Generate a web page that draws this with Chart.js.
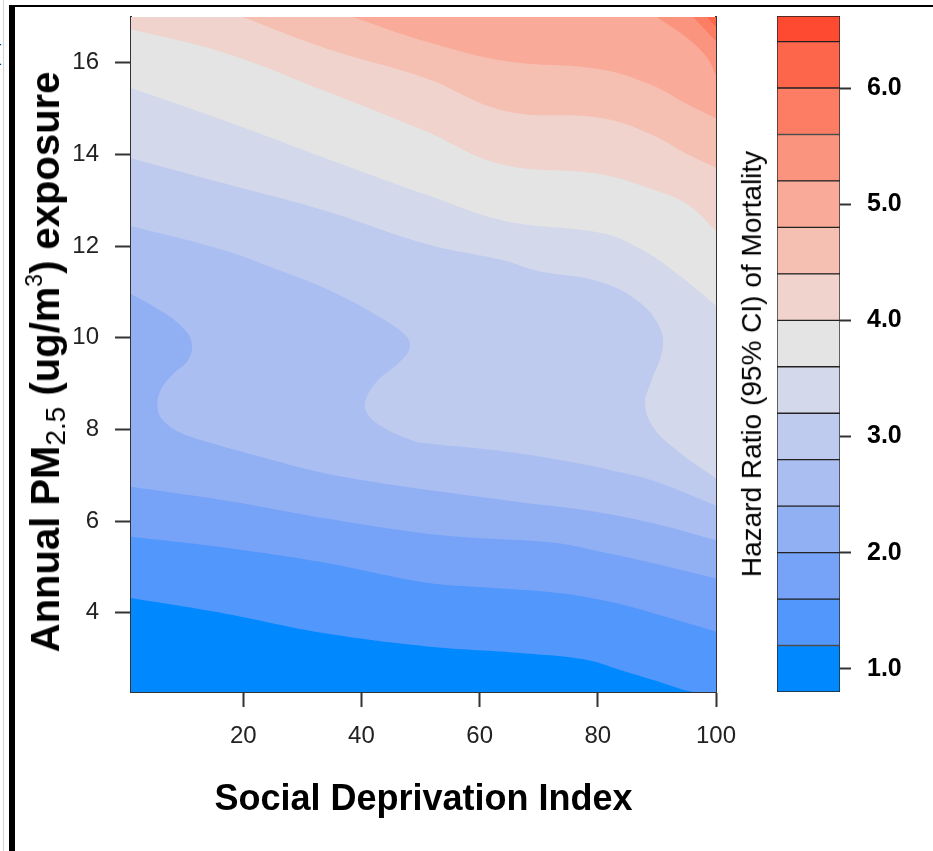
<!DOCTYPE html>
<html>
<head>
<meta charset="utf-8">
<title>Hazard ratio surface: PM2.5 exposure vs social deprivation</title>
<script src="https://cdn.jsdelivr.net/npm/chart.js@4.4.0/dist/chart.umd.min.js"></script>
<style>
  html, body { margin: 0; padding: 0; background: #fff; }
  #wrap { position: relative; width: 933px; height: 851px; overflow: hidden;
          font-family: "Liberation Sans", Arial, sans-serif; }
  #main { position: absolute; left: 0; top: 0; }
  #key  { position: absolute; left: 690px; top: 0; }
  .rule-top  { position: absolute; left: 12px; top: 5px; width: 921px; height: 2px; background: #000; }
  .rule-left { position: absolute; left: 9px; top: 5px; width: 6px; height: 846px; background: #000; }
  .rule-thin { position: absolute; left: 3px; top: 0; width: 1px; height: 851px; background: #d4d4d4; }
  .cut { position: absolute; left: -6px; top: 40px; font-size: 22px; color: #000; }
  .vtitle { position: absolute; white-space: nowrap; line-height: 1.15;
            transform: translate(-50%, -50%) rotate(-90deg); color: #000; }
  #ytitle { left: 45px; top: 362px; font-size: 40px; font-weight: bold; }
  #ytitle sub { font-size: 28px; font-weight: normal; vertical-align: -0.22em; line-height: 0; }
  #ytitle sup { font-size: 23px; font-weight: normal; vertical-align: 0.75em; line-height: 0; }
  #ktitle { left: 752px; top: 364px; font-size: 28px; }
</style>
</head>
<body>
<div id="wrap">
  <div class="rule-thin"></div>
  <div class="rule-top"></div>
  <div class="rule-left"></div>
  <div class="cut">(</div>
  <canvas id="main" width="933" height="851"></canvas>
  <canvas id="key" width="243" height="851"></canvas>
  <div id="ytitle" class="vtitle">Annual PM<sub>2.5</sub> (ug/m<sup>3</sup>) exposure</div>
  <div id="ktitle" class="vtitle">Hazard Ratio (95% CI) of Mortality</div>
</div>
<script>
// Axis extents of the surface
const sdiRange = [1, 100];        // Social Deprivation Index
const pmRange = [2.27, 17];       // annual PM2.5, ug/m3
const sdiTicks = [20, 40, 60, 80, 100];
const pmTicks = [4, 6, 8, 10, 12, 14, 16];

// Hazard-ratio contour levels (band edges) and key ticks
const levels = [0.8, 1.2, 1.6, 2.0, 2.4, 2.8, 3.2, 3.6, 4.0, 4.4, 4.8, 5.2, 5.6, 6.0, 6.4, 6.62];
const keyTicks = [1, 2, 3, 4, 5, 6];

// Band fill colours, lowest band first
const bandColors = [
  '#0089FF', '#5297FC', '#76A3F8', '#91B0F4', '#AABEF2', '#BECAEE', '#D3D8EB',
  '#E4E4E4', '#EFD3CC', '#F5BFB2', '#F9AA98', '#FB947E', '#FC7D64', '#FE664B', '#FF4A32'
];

// Iso-lines of the hazard ratio, as [SDI, PM2.5] pairs, left to right
const hr12 = [[1, 4.32], [17, 3.98], [33.9, 3.55], [50.8, 3.27], [66.9, 3.12], [78.2, 2.97],
              [83.8, 2.75], [89.4, 2.53], [96.1, 2.27], [100, 2.27]];
const hr16 = [[1, 5.66], [17, 5.42], [33.9, 5.09], [50.8, 4.66], [61.3, 4.55], [72.5, 4.44],
              [80.9, 4.27], [89.4, 3.99], [100, 3.59]];
const hr20 = [[1, 6.75], [17, 6.45], [33.9, 6.06], [50.8, 5.73], [61.3, 5.62], [72.5, 5.53],
              [80.9, 5.32], [89.4, 5.08], [100, 4.75]];
const hr24 = [[1, 10.96], [6.5, 10.55], [9.9, 10.2], [11.3, 9.87], [10.6, 9.5], [8.2, 9.22],
              [6.0, 8.85], [5.5, 8.47], [6.5, 8.19], [9.4, 7.93], [15, 7.69], [23.4, 7.39],
              [31.9, 7.1], [40.3, 6.89], [51.7, 6.67], [66.9, 6.41], [78.2, 6.23], [89.4, 5.95],
              [100, 5.58]];
const hr28 = [[1, 12.44], [17, 11.9], [26.3, 11.46], [34.8, 11.02], [43.2, 10.44], [47.8, 10.0],
              [48.0, 9.72], [46.1, 9.43], [42.7, 9.06], [40.7, 8.63], [41.0, 8.34], [43.7, 8.04],
              [48.8, 7.75], [51.7, 7.69], [63.0, 7.54], [74.1, 7.32], [82.6, 7.1], [89.4, 6.88],
              [100, 6.34]];
const hr32 = [[1, 13.92], [17, 13.36], [33.9, 12.77], [50.8, 12.05], [64.3, 11.68], [70, 11.45],
              [79.9, 11.24], [86.7, 10.81], [90.5, 10.22], [90.9, 9.72], [88.9, 9.0], [88.0, 8.56],
              [89.4, 8.04], [93.4, 7.54], [100, 6.93]];
const hr36 = [[1, 15.45], [17, 14.73], [33.9, 13.92], [50.8, 13.13], [64.3, 12.55], [80.4, 12.29],
              [87.2, 11.94], [93.9, 11.35], [100, 10.7]];
const hr40 = [[1, 16.73], [17, 16.21], [33.9, 15.38], [50.8, 14.51], [63.5, 13.79], [80.4, 13.57],
              [88.8, 13.26], [95.1, 12.92], [100, 12.33]];
const hr44 = [[19.9, 17], [33.9, 16.32], [50.8, 15.67], [64.3, 14.95], [80.4, 14.8], [88.8, 14.45],
              [95.1, 14.01], [100, 13.71]];
const hr48 = [[38.5, 17], [50.8, 16.47], [64.3, 16.04], [80.4, 15.86], [88.8, 15.53], [95.1, 15.1],
              [100, 14.79]];
const hr52 = [[90, 17], [95.1, 16.54], [98.5, 16.11], [100, 15.72]];
const hr56 = [[96.1, 17], [100, 16.47]];
const hr60 = [[98.5, 17], [100, 16.78]];

const isoLines = [hr12, hr16, hr20, hr24, hr28, hr32, hr36, hr40, hr44, hr48, hr52, hr56, hr60];

const FAMILY = "'Liberation Sans', Arial, sans-serif";

// Each band is the area above its lower iso-line; higher bands are painted over lower ones.
const bandStyle = {
  showLine: true, pointRadius: 0, pointHoverRadius: 0, borderWidth: 0,
  borderColor: 'rgba(0,0,0,0)', tension: 0.4, fill: 'end'
};
const surfaceSets = [
  Object.assign({
    data: [{ x: sdiRange[0], y: pmRange[0] }, { x: sdiRange[1], y: pmRange[0] }],
    backgroundColor: bandColors[0],
    order: isoLines.length + 1
  }, bandStyle)
];
isoLines.forEach((line, i) => {
  surfaceSets.push(Object.assign({
    data: line.map(([x, y]) => ({ x, y })),
    backgroundColor: bandColors[i + 1],
    order: isoLines.length - i
  }, bandStyle));
});

const fixedTicks = values => scale => { scale.ticks = values.map(v => ({ value: v })); };
// Vertical axes: fixed width, and no extra room reserved for the end labels
const fixedWidth = w => scale => { scale.width = w; scale.paddingTop = 0; scale.paddingBottom = 0; };

new Chart(document.getElementById('main'), {
  type: 'scatter',
  data: { datasets: surfaceSets },
  options: {
    responsive: false,
    animation: false,
    events: [],
    layout: { padding: { left: 0, top: 17, right: 217, bottom: 0 } },
    plugins: { legend: { display: false }, tooltip: { enabled: false } },
    scales: {
      x: {
        type: 'linear', position: 'bottom', min: sdiRange[0], max: sdiRange[1],
        afterBuildTicks: fixedTicks(sdiTicks),
        afterFit: s => { s.height = 159; s.paddingLeft = 0; s.paddingRight = 0; },
        grid: { drawOnChartArea: false, drawTicks: true, tickLength: 15, tickColor: '#333', tickWidth: 2 },
        border: { display: true, color: '#333', width: 2 },
        ticks: { color: '#222', font: { family: FAMILY, size: 24 }, padding: 15, maxRotation: 0, autoSkip: false },
        title: {
          display: true, text: 'Social Deprivation Index', color: '#000',
          font: { family: FAMILY, size: 36, weight: 'bold' }, padding: { top: 0, bottom: 29 }
        }
      },
      y: {
        type: 'linear', position: 'left', min: pmRange[0], max: pmRange[1],
        afterBuildTicks: fixedTicks(pmTicks),
        afterFit: fixedWidth(131),
        grid: { drawOnChartArea: false, drawTicks: true, tickLength: 16, tickColor: '#333', tickWidth: 2 },
        border: { display: true, color: '#333', width: 2 },
        ticks: { color: '#222', font: { family: FAMILY, size: 24 }, padding: 16, autoSkip: false }
      },
      yFrame: {
        type: 'linear', position: 'right', min: pmRange[0], max: pmRange[1],
        afterFit: fixedWidth(0),
        grid: { display: false, drawTicks: false },
        border: { display: true, color: '#333', width: 2 },
        ticks: { display: false }
      }
    }
  }
});

// Colour key: one floating bar per band
new Chart(document.getElementById('key'), {
  type: 'bar',
  data: {
    labels: [''],
    datasets: bandColors.map((c, i) => ({
      data: [[levels[i], levels[i + 1]]],
      backgroundColor: c,
      borderColor: '#222',
      borderWidth: 1,
      borderSkipped: false,
      barPercentage: 1,
      categoryPercentage: 1,
      grouped: false
    }))
  },
  options: {
    responsive: false,
    animation: false,
    events: [],
    layout: { padding: { left: 87, top: 16, right: 0, bottom: 159 } },
    plugins: { legend: { display: false }, tooltip: { enabled: false } },
    scales: {
      x: { display: false },
      y: {
        type: 'linear', position: 'right', min: levels[0], max: levels[levels.length - 1],
        afterBuildTicks: fixedTicks(keyTicks),
        afterFit: fixedWidth(93),
        grid: { drawOnChartArea: false, drawTicks: true, tickLength: 11, tickColor: '#333', tickWidth: 2 },
        border: { display: false },
        ticks: {
          color: '#000', font: { family: FAMILY, size: 25, weight: 'bold' }, padding: 16,
          callback: v => Number(v).toFixed(1)
        }
      }
    }
  }
});
</script>
</body>
</html>
